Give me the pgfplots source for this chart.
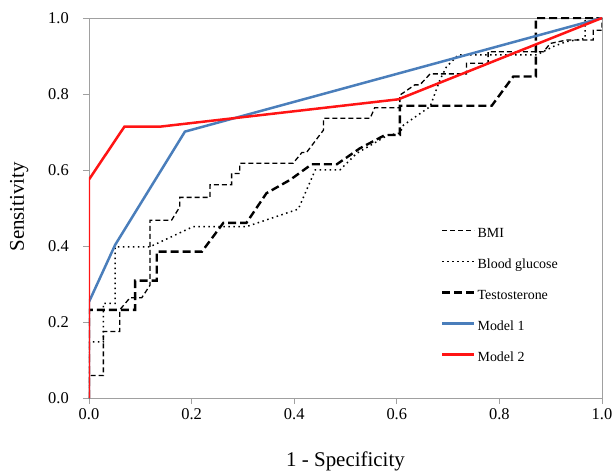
\documentclass[border=0pt]{standalone}
\usepackage{pgfplots}
\pgfplotsset{compat=1.18}
\usepackage{fontspec}
\setmainfont{Liberation Serif}
\definecolor{axisgray}{RGB}{160,160,160}
\definecolor{mblue}{RGB}{74,126,187}
\definecolor{mred}{RGB}{255,20,20}
\begin{document}
\begin{tikzpicture}
\begin{axis}[
    scale only axis, width=513bp, height=380bp,
    xmin=0, xmax=1, ymin=0, ymax=1,
    xtick={0,0.2,0.4,0.6,0.8,1}, ytick={0,0.2,0.4,0.6,0.8,1},
    tick align=outside, tickpos=left, major tick length=6bp,
    axis line style={draw=axisgray, line width=0.8bp},
    every tick/.style={draw=axisgray, line width=0.8bp},
    /pgf/number format/assume math mode=true,
    /pgf/number format/fixed, /pgf/number format/fixed zerofill,
    /pgf/number format/precision=1,
    ticklabel style={font=\fontsize{16.5}{18}\selectfont},
    yticklabel style={anchor=east, inner sep=0pt, xshift=-14bp},
    xticklabel style={anchor=north, inner sep=0pt, yshift=-4bp},
    xlabel={1 - Specificity}, ylabel={Sensitivity},
    label style={font=\fontsize{21}{24}\selectfont},
    xlabel style={at={(axis description cs:0.5,-0.166)}, anchor=center},
    ylabel style={at={(axis description cs:-0.136,0.503)}, anchor=center},
    legend style={at={(axis cs:0.686,0.455)}, anchor=north west, draw=none, fill=none,
        inner sep=0pt, font=\fontsize{14}{16}\selectfont, row sep=14bp,
        nodes={inner sep=2bp, text height=10bp, text depth=3bp},
        cells={anchor=west}},
    legend image code/.code={\draw[#1] (0bp,0.33em) -- (32bp,0.33em);},
]
% BMI
\addplot[black, line width=1.3bp, dash pattern=on 5bp off 3bp] coordinates {
 (0,0) (0,0.059) (0.028,0.059) (0.028,0.175) (0.060,0.175) (0.060,0.232)
 (0.080,0.264) (0.103,0.264) (0.119,0.297) (0.119,0.468) (0.161,0.468)
 (0.177,0.503) (0.177,0.528) (0.236,0.528) (0.236,0.561) (0.278,0.561)
 (0.278,0.591) (0.294,0.591) (0.294,0.618) (0.398,0.618) (0.415,0.646)
 (0.424,0.646) (0.457,0.705) (0.457,0.736) (0.548,0.736) (0.557,0.764)
 (0.606,0.764) (0.606,0.797) (0.635,0.824) (0.645,0.824) (0.665,0.853)
 (0.736,0.853) (0.736,0.881) (0.778,0.881) (0.778,0.911) (0.886,0.911)
 (0.899,0.933) (0.931,0.942) (0.983,0.942) (0.983,0.968) (1,0.968) (1,1)
};
\addlegendentry{BMI}
% Blood glucose
\addplot[black, line width=1.5bp, dash pattern=on 1.5bp off 3.5bp] coordinates {
 (0,0) (0,0.148) (0.028,0.148) (0.028,0.249) (0.051,0.249) (0.051,0.398)
 (0.119,0.398) (0.203,0.451) (0.307,0.451) (0.408,0.497) (0.441,0.600)
 (0.489,0.600) (0.522,0.644) (0.583,0.692) (0.606,0.697) (0.613,0.718)
 (0.665,0.767) (0.684,0.837) (0.697,0.872) (0.720,0.903) (0.873,0.903)
 (0.905,0.925) (0.931,0.938) (0.967,0.946) (0.967,1) (1,1)
};
\addlegendentry{Blood glucose}
% Testosterone
\addplot[black, line width=2.4bp, dash pattern=on 8bp off 4bp] coordinates {
 (0,0) (0,0.232) (0.090,0.232) (0.090,0.309) (0.132,0.309) (0.132,0.385)
 (0.220,0.385) (0.262,0.461) (0.307,0.461) (0.346,0.539) (0.392,0.574)
 (0.434,0.615) (0.483,0.615) (0.528,0.657) (0.577,0.692) (0.606,0.692)
 (0.606,0.769) (0.785,0.769) (0.827,0.846) (0.871,0.846) (0.871,1) (1,1)
};
\addlegendentry{Testosterone}
% Model 1
\addplot[mblue, line width=2.5bp] coordinates {
 (0,0) (0,0.253) (0.051,0.403) (0.187,0.701) (1,1)
};
\addlegendentry{Model 1}
% Model 2
\addplot[mred, line width=2.5bp] coordinates {
 (0,0) (0,0.575) (0.069,0.714) (0.138,0.714) (0.603,0.786) (1,1)
};
\addlegendentry{Model 2}
\coordinate (o) at (rel axis cs:0,0);
\end{axis}
\pgfresetboundingbox
\path (o) ++(-89bp,-75bp) rectangle ++(612bp,473bp);
\end{tikzpicture}
\end{document}
